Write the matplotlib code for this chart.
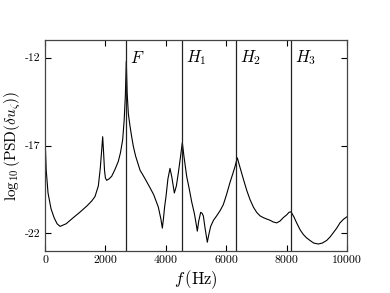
import numpy as np
import matplotlib
matplotlib.use("Agg")
import matplotlib.pyplot as plt

plt.rcParams['font.family'] = ['cmr10', 'DejaVu Serif']
plt.rcParams['mathtext.fontset'] = 'cm'
plt.rcParams['axes.formatter.use_mathtext'] = True

# spectrum (Hz, log10 PSD)
freq = [0, 15, 40, 100, 200, 300, 400, 500, 700, 938, 1150, 1380, 1550, 1656,
        1766, 1830, 1880, 1910, 1940, 1970, 2000, 2042, 2120, 2208, 2320, 2428,
        2500, 2572, 2620, 2660, 2692, 2720, 2760, 2815, 2870, 2925, 3000, 3146,
        3300, 3477, 3600, 3752, 3840, 3885, 3920, 3960, 4007, 4070, 4139, 4200,
        4283, 4350, 4415, 4490, 4547, 4600, 4691, 4780, 4857, 4950, 5000, 5044,
        5090, 5155, 5200, 5243, 5300, 5375, 5420, 5486, 5580, 5684, 5800, 5905,
        6010, 6126, 6220, 6291, 6368, 6450, 6567, 6680, 6788, 6900, 7009, 7120,
        7229, 7340, 7450, 7560, 7671, 7780, 7891, 8000, 8080, 8146, 8240, 8333,
        8450, 8554, 8660, 8775, 8900, 9051, 9180, 9327, 9440, 9547, 9660, 9768,
        9880, 10000]
psd = [-16.0, -17.2, -18.4, -19.7, -20.6, -21.1, -21.45, -21.6, -21.45, -21.1,
       -20.8, -20.45, -20.15, -19.9, -19.3, -18.3, -17.2, -16.5, -17.4, -18.4,
       -18.85, -18.98, -18.9, -18.75, -18.35, -17.9, -17.4, -16.67, -15.6, -14.2,
       -12.2, -14.0, -15.2, -15.9, -16.5, -17.05, -17.6, -18.4, -18.85, -19.4,
       -19.8, -20.5, -21.2, -21.7, -21.2, -20.5, -19.9, -18.9, -18.3, -18.8,
       -19.7, -19.3, -18.56, -17.6, -16.83, -17.6, -18.75, -19.5, -20.2, -20.9,
       -21.4, -21.87, -21.3, -20.8, -20.85, -21.0, -21.7, -22.5, -22.1, -21.6,
       -21.25, -21.0, -20.7, -20.36, -19.8, -19.1, -18.6, -18.2, -17.7, -18.2,
       -18.9, -19.55, -20.07, -20.5, -20.8, -21.0, -21.1, -21.18, -21.25, -21.35,
       -21.4, -21.3, -21.1, -20.95, -20.8, -20.77, -21.05, -21.4, -21.8, -22.06,
       -22.25, -22.4, -22.55, -22.6, -22.55, -22.4, -22.2, -21.96, -21.7, -21.4,
       -21.2, -21.05]

# fundamental and harmonics
mode_freq = [2692, 4546, 6314, 8156]
mode_labels = [r'$F$', r'$H_1$', r'$H_2$', r'$H_3$']

xticks = [0, 2000, 4000, 6000, 8000, 10000]
yticks = [-22, -17, -12]

fig = plt.figure(figsize=(3.9, 2.93), dpi=100)
ax = fig.add_axes([0.1154, 0.1433, 0.7743, 0.7202])

ax.plot(freq, psd, color='black', lw=0.8)
for f, lab in zip(mode_freq, mode_labels):
    ax.axvline(f, color='#222222', lw=0.9)
    ax.annotate(lab, xy=(f, -12), xytext=(3, 0), textcoords='offset points',
                ha='left', va='center', fontsize=12)

ax.set_xlim(0, 10000)
ax.set_ylim(-23, -11)
ax.set_xticks(xticks)
ax.set_xticklabels([str(t) for t in xticks])
ax.set_yticks(yticks)
ax.set_yticklabels([str(t) for t in yticks])
ax.tick_params(direction='in', top=True, right=True, labelsize=8.5, length=4,
               width=0.8)
for s in ax.spines.values():
    s.set_linewidth(0.9)
    s.set_color('#444444')

ax.set_xlabel(r'$f\,(\mathrm{Hz})$', fontsize=12, labelpad=2)
ax.set_ylabel(r'$\log_{10}(\mathrm{PSD}(\delta u_\zeta))$', fontsize=11,
              labelpad=1)

fig.savefig('out.png', dpi=100)
